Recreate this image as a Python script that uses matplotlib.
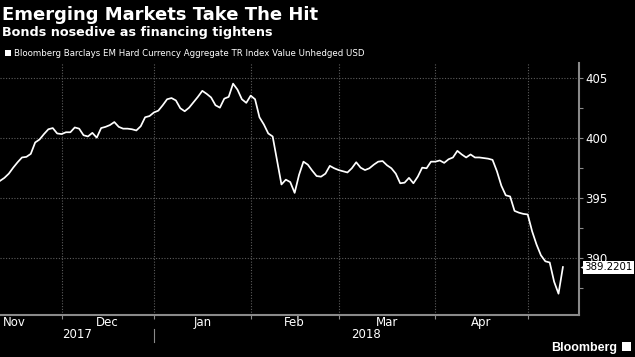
import matplotlib
matplotlib.use("Agg")
import matplotlib.pyplot as plt
import matplotlib.transforms as mtransforms
from matplotlib.patches import Rectangle
import pandas as pd

# Business days shown on the chart (Jan 1 holiday dropped)
dates = pd.bdate_range("2017-11-13", "2018-05-11")
dates = dates[dates != pd.Timestamp("2018-01-01")]

values = [
    396.4, 396.65, 397.0, 397.5, 397.95, 398.35, 398.4, 398.65, 399.6, 399.85,
    400.3, 400.7, 400.8, 400.35, 400.3, 400.45, 400.45, 400.85, 400.75, 400.2,
    400.1, 400.4, 400.0, 400.8, 400.9, 401.05, 401.3, 400.9, 400.75, 400.75,
    400.7, 400.6, 400.95, 401.7, 401.8, 402.1, 402.25, 402.7, 403.2, 403.3,
    403.1, 402.45, 402.2, 402.5, 402.95, 403.4, 403.9, 403.65, 403.35, 402.7,
    402.5, 403.25, 403.4, 404.5, 404.0, 403.2, 402.9, 403.5, 403.2, 401.7,
    401.1, 400.35, 400.1, 398.1, 396.1, 396.5, 396.3, 395.4, 396.9, 398.0,
    397.75, 397.25, 396.8, 396.75, 397.0, 397.65, 397.45, 397.3, 397.2, 397.1,
    397.45, 397.95, 397.5, 397.3, 397.45, 397.75, 398.0, 398.05, 397.7, 397.45,
    397.0, 396.2, 396.25, 396.65, 396.2, 396.75, 397.5, 397.45, 398.0, 398.0,
    398.1, 397.9, 398.2, 398.35, 398.9, 398.6, 398.35, 398.6, 398.35, 398.35,
    398.3, 398.25, 398.15, 397.2, 396.0, 395.2, 395.1, 393.9, 393.75, 393.65,
    393.6, 392.2, 391.1, 390.2, 389.7, 389.6, 388.0, 387.0, 389.2201,
]

month_labels = ["Nov", "Dec", "Jan", "Feb", "Mar", "Apr"]
year_labels = ["2017", "2018"]
y_ticks = [390, 395, 400, 405]
y_minor = [387.5, 392.5, 397.5, 402.5]

title = "Emerging Markets Take The Hit"
subtitle = "Bonds nosedive as financing tightens"
legend_label = "Bloomberg Barclays EM Hard Currency Aggregate TR Index Value Unhedged USD"

BG = "black"
GRID = "#5c5c5c"
AXIS = "#8a8a8a"
FS = 8.5

fig = plt.figure(figsize=(6.35, 3.57), dpi=100, facecolor=BG)
ax = fig.add_axes([0.0, 1 - 314.7 / 357, 579 / 635, (314.7 - 63) / 357])
ax.set_facecolor(BG)

x = list(range(len(values)))
ax.plot(x, values, color="white", lw=1.25, solid_joinstyle="round")

# month boundaries
month_start = [i for i in range(1, len(dates)) if dates[i].month != dates[i - 1].month]
jan_idx = [i for i in month_start if dates[i].month == 1][0]
x_right = 131.66
ax.set_xlim(0, x_right)
ax.set_ylim(385.25, 406.22)

ax.set_xticks(month_start)
ax.set_xticklabels([])
ax.set_yticks(y_ticks)
ax.set_yticks(y_minor, minor=True)
ax.yaxis.tick_right()
ax.tick_params(axis="y", which="both", direction="out", length=3, width=0.8,
               color=AXIS, labelcolor="white", labelsize=FS, pad=1.5)
ax.tick_params(axis="x", direction="out", length=3, width=0.8, color=AXIS)

ax.grid(True, which="major", color=GRID, ls=(0, (1, 1.5)), lw=0.8)
for s in ["left", "top"]:
    ax.spines[s].set_visible(False)
for s in ["right", "bottom"]:
    ax.spines[s].set_color(AXIS)
    ax.spines[s].set_linewidth(1.5)

# month and year labels under the axis
bt = mtransforms.blended_transform_factory(ax.transData, fig.transFigure)
bounds = [0] + month_start
for k, name in enumerate(month_labels):
    if k == 0:
        ax.text(0.7, 1 - 322.7 / 357, name, transform=bt, ha="left", va="center",
                color="white", fontsize=FS)
    else:
        mid = (bounds[k] + bounds[k + 1]) / 2
        ax.text(mid, 1 - 322.7 / 357, name, transform=bt, ha="center", va="center",
                color="white", fontsize=FS)
ax.text(jan_idx / 2, 1 - 335 / 357, year_labels[0], transform=bt, ha="center",
        va="center", color="white", fontsize=FS)
ax.text((jan_idx + x_right) / 2, 1 - 335 / 357, year_labels[1], transform=bt,
        ha="center", va="center", color="white", fontsize=FS)
ax.plot([jan_idx, jan_idx], [1 - 329 / 357, 1 - 341.7 / 357], transform=bt,
        color=AXIS, lw=0.8, clip_on=False)

# last value tag
lt = mtransforms.blended_transform_factory(ax.transAxes, ax.transData)
last = values[-1]
ax.text(1.0095, last, f"{last:.4f}", transform=lt, ha="left", va="center",
        fontsize=7.4, color="black", zorder=5,
        bbox=dict(boxstyle="square,pad=0.15", fc="white", ec="none"))
ax.plot([1.0065], [last], transform=lt, marker="<", ms=5, color="white",
        clip_on=False, mec="none", zorder=5)

# titles and legend
fig.text(0.003, 1 - 19.5 / 357, title, color="white", fontsize=13,
         fontweight="bold", va="baseline")
fig.text(0.003, 1 - 36.3 / 357, subtitle, color="white", fontsize=9.2,
         fontweight="bold", va="baseline")
fig.patches.append(Rectangle((5 / 635, 1 - 55.7 / 357), 5.5 / 635, 5.5 / 357,
                             transform=fig.transFigure, fc="white", ec="none"))
fig.text(14 / 635, 1 - 56 / 357, legend_label, color="white", fontsize=6.2,
         va="baseline")

# Bloomberg mark
fig.text(617 / 635, 1 - 351.5 / 357, "Bloomberg", color="white", fontsize=9,
         fontweight="bold", family="Liberation Sans", ha="right", va="baseline")
fig.patches.append(Rectangle((622 / 635, 1 - 351 / 357), 9 / 635, 9 / 357,
                             transform=fig.transFigure, fc="white", ec="none"))

fig.savefig("out.png", dpi=100, facecolor=BG)
